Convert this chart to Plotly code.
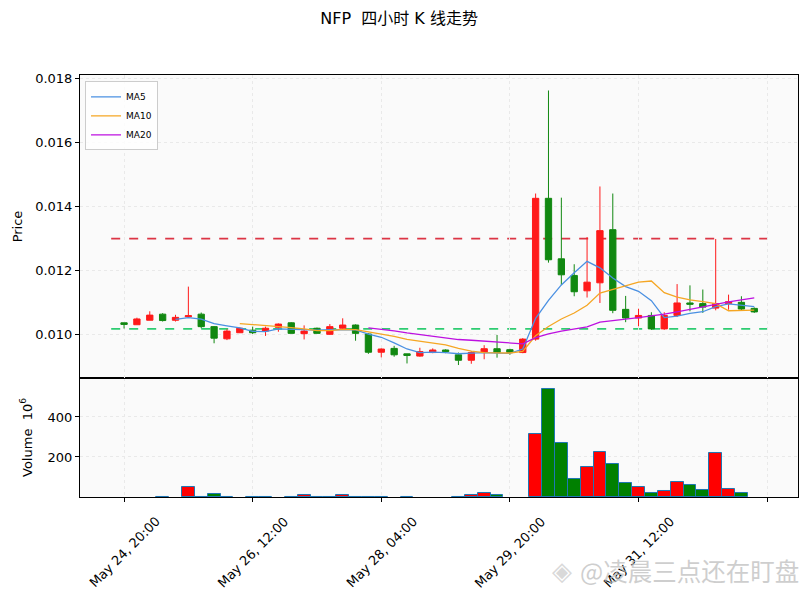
import pandas as pd
import plotly.graph_objects as go

# 4h candles, first one at May 24 20:00
start_time = "2025-05-24 20:00"
n_bars = 50

opens = [0.01035, 0.01029, 0.01043, 0.01062, 0.01043, 0.01054, 0.01062, 0.01023, 0.00985, 0.01004,
         0.01012, 0.01009, 0.01021, 0.01035, 0.01001, 0.01018, 0.00999, 0.01018, 0.01028, 0.01000,
         0.00943, 0.00955, 0.00938, 0.00931, 0.00942, 0.00950, 0.00935, 0.00918, 0.00942, 0.00954,
         0.00951, 0.00942, 0.00984, 0.01424, 0.01235, 0.01183, 0.01135, 0.01160, 0.01326, 0.01077,
         0.01050, 0.01058, 0.01016, 0.01058, 0.01097, 0.01095, 0.01081, 0.01095, 0.01099, 0.01080]
highs = [0.01035, 0.01051, 0.01071, 0.01065, 0.01060, 0.01148, 0.01067, 0.01025, 0.01015, 0.01020,
         0.01023, 0.01023, 0.01033, 0.01037, 0.01027, 0.01020, 0.01031, 0.01049, 0.01030, 0.01002,
         0.00955, 0.00963, 0.00938, 0.00957, 0.00955, 0.00952, 0.00942, 0.00947, 0.00965, 0.00997,
         0.00954, 0.00987, 0.01439, 0.01761, 0.01426, 0.01218, 0.01303, 0.01461, 0.01439, 0.01119,
         0.01079, 0.01068, 0.01068, 0.01156, 0.01152, 0.01139, 0.01297, 0.01123, 0.01118, 0.01083]
lows = [0.01017, 0.01029, 0.01043, 0.01039, 0.01039, 0.01052, 0.01018, 0.00971, 0.00981, 0.01004,
        0.01000, 0.00994, 0.01007, 0.01002, 0.00983, 0.01002, 0.00997, 0.01015, 0.00979, 0.00938,
        0.00927, 0.00929, 0.00908, 0.00929, 0.00940, 0.00940, 0.00903, 0.00907, 0.00921, 0.00926,
        0.00935, 0.00940, 0.00979, 0.01223, 0.01153, 0.01118, 0.01114, 0.01097, 0.01065, 0.01037,
        0.01024, 0.01013, 0.01013, 0.01053, 0.01071, 0.01066, 0.01074, 0.01076, 0.01072, 0.01066]
closes = [0.01030, 0.01047, 0.01059, 0.01042, 0.01052, 0.01057, 0.01023, 0.00987, 0.01009, 0.01018,
          0.01004, 0.01018, 0.01031, 0.01002, 0.01009, 0.01002, 0.01023, 0.01028, 0.01002, 0.00943,
          0.00953, 0.00935, 0.00933, 0.00945, 0.00950, 0.00945, 0.00918, 0.00942, 0.00954, 0.00942,
          0.00942, 0.00984, 0.01424, 0.01232, 0.01185, 0.01132, 0.01162, 0.01323, 0.01074, 0.01050,
          0.01058, 0.01016, 0.01058, 0.01097, 0.01093, 0.01084, 0.01095, 0.01101, 0.01078, 0.01069]
# volume in millions
volumes = [0, 0, 0, 2, 0, 48, 2, 13, 2, 0,
           2, 2, 0, 2, 8, 2, 2, 8, 2, 2,
           2, 0, 2, 0, 0, 0, 2, 8, 20, 9,
           0, 0, 317, 541, 272, 88, 148, 227, 163, 68,
           48, 18, 28, 73, 58, 33, 222, 38, 18, 0]

resistance = 0.01298
support = 0.01016

tick_labels = ["May 24, 20:00", "May 26, 12:00", "May 28, 04:00", "May 29, 20:00", "May 31, 12:00"]

UP = "#ff1a1a"
DOWN = "#118811"

times = pd.date_range(start_time, periods=n_bars, freq="4h")
df = pd.DataFrame({"open": opens, "high": highs, "low": lows, "close": closes, "vol": volumes}, index=times)
ma5 = df["close"].rolling(5).mean()
ma10 = df["close"].rolling(10).mean()
ma20 = df["close"].rolling(20).mean()

vol_colors = ["red" if c >= o else "green" for o, c in zip(opens, closes)]
vol_plot = [v if v > 0 else None for v in volumes]

fig = go.Figure()
fig.add_trace(go.Candlestick(
    x=times, open=opens, high=highs, low=lows, close=closes,
    increasing=dict(line=dict(color=UP, width=1), fillcolor=UP),
    decreasing=dict(line=dict(color=DOWN, width=1), fillcolor=DOWN),
    whiskerwidth=0, showlegend=False, xaxis="x2", yaxis="y2", hoverinfo="skip"))
fig.add_trace(go.Scatter(x=times, y=ma5, name="MA5", mode="lines",
                         line=dict(color="#4a90e2", width=1.3), xaxis="x2", yaxis="y2"))
fig.add_trace(go.Scatter(x=times, y=ma10, name="MA10", mode="lines",
                         line=dict(color="#f5a623", width=1.3), xaxis="x2", yaxis="y2"))
fig.add_trace(go.Scatter(x=times, y=ma20, name="MA20", mode="lines",
                         line=dict(color="#bd10e0", width=1.3), xaxis="x2", yaxis="y2"))

fig.add_trace(go.Bar(x=times, y=vol_plot, marker=dict(color=vol_colors, line=dict(color="#1f77b4", width=1)),
                     width=4 * 3600 * 1000, showlegend=False, xaxis="x", yaxis="y"))

line_x0 = times[0] - pd.Timedelta(hours=4)
line_x1 = times[-1] + pd.Timedelta(hours=4)
fig.add_shape(type="line", x0=line_x0, x1=line_x1, y0=resistance, y1=resistance, xref="x2", yref="y2",
              line=dict(color="#dc3545", width=1.6, dash="dash"), layer="below")
fig.add_shape(type="line", x0=line_x0, x1=line_x1, y0=support, y1=support, xref="x2", yref="y2",
              line=dict(color="#2ecc71", width=1.6, dash="dash"), layer="below")

x_range = [times[0] - pd.Timedelta(hours=13.7), times[0] + pd.Timedelta(hours=209.6)]
tick_vals = [times[0] + pd.Timedelta(hours=40 * i) for i in range(6)]

# rotated labels centred under the ticks (last tick has no label)
for tv, lab in zip(tick_vals, tick_labels):
    fig.add_annotation(text=lab, x=tv, xref="x", y=0, yref="paper", yshift=-14,
                       textangle=-45, xanchor="center", yanchor="top", showarrow=False,
                       font=dict(size=13, color="black"))

axis_common = dict(showline=True, mirror=True, linecolor="black", linewidth=1,
                   ticks="outside", ticklen=4, tickcolor="black", automargin=False,
                   showgrid=True, gridcolor="#e9e9e9", griddash="dot", gridwidth=1,
                   zeroline=False, tickfont=dict(size=13, color="black"))

# page body has an 8px margin, margins below compensate for it
fig.update_layout(
    width=808, height=598,
    margin=dict(l=72, r=18, t=67, b=109),
    paper_bgcolor="white", plot_bgcolor="#fafafa",
    font=dict(family="DejaVu Sans, Noto Sans CJK SC", size=13, color="black"),
    title=dict(text="NFP  四小时 K 线走势", x=0.484, y=0.983, xanchor="center", yanchor="middle",
               font=dict(size=16)),
    bargap=0,
    xaxis=dict(axis_common, type="date", range=x_range, tickvals=tick_vals, showticklabels=False,
               anchor="y"),
    yaxis=dict(axis_common, domain=[0, 0.282], range=[0, 595], tickvals=[200, 400],
               title=dict(text="Volume  10<sup>6</sup>", font=dict(size=13), standoff=12)),
    xaxis2=dict(axis_common, type="date", range=x_range, matches="x", tickvals=tick_vals,
                showticklabels=False, ticks="", anchor="y2", rangeslider=dict(visible=False)),
    yaxis2=dict(axis_common, domain=[0.282, 1], range=[0.008625, 0.018094],
                tickvals=[0.010, 0.012, 0.014, 0.016, 0.018], tickformat=".3f",
                title=dict(text="Price", font=dict(size=13), standoff=9), anchor="x2"),
    legend=dict(x=0.007, y=0.985, xanchor="left", yanchor="top", bgcolor="rgba(255,255,255,0.8)",
                bordercolor="#cccccc", borderwidth=1, font=dict(size=9), tracegroupgap=0,
                itemwidth=30),
    showlegend=True,
)

# watermark
fig.add_annotation(text="◈", xref="paper", yref="paper", x=0.672, y=-0.175,
                   xanchor="center", yanchor="middle", showarrow=False,
                   font=dict(size=26, color="rgba(200,200,200,0.7)", family="DejaVu Sans"))
fig.add_annotation(text="@凌晨三点还在盯盘", xref="paper", yref="paper", x=1.004, y=-0.175,
                   xanchor="right", yanchor="middle", showarrow=False,
                   font=dict(size=24.5, color="rgba(190,190,190,0.75)", family="Noto Sans CJK SC"))

fig.write_html("out.html")
